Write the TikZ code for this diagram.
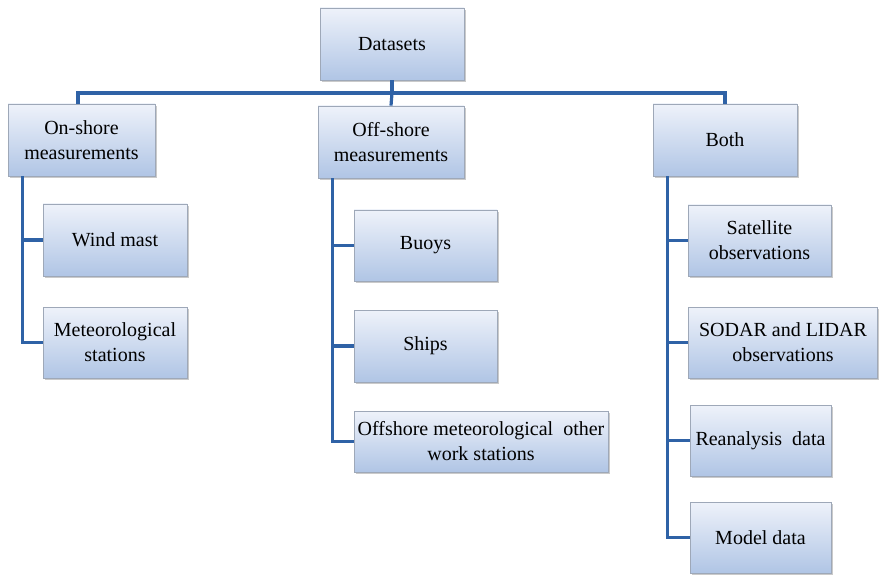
\documentclass[tikz,border=0pt]{standalone}
\usepackage{fontspec}
\setmainfont{Liberation Serif}
\usetikzlibrary{shadows}
\definecolor{linec}{HTML}{2F62A6}
\definecolor{boxtop}{HTML}{EEF2FA}
\definecolor{boxbot}{HTML}{B0C5E5}
\definecolor{boxline}{HTML}{9EA8B8}
\tikzset{
  bx/.style={rectangle, draw=boxline, line width=0.8pt, top color=boxtop, bottom color=boxbot,
    drop shadow={shadow xshift=1.5pt, shadow yshift=-2pt, fill=black!35, opacity=0.6},
    align=center, inner sep=0pt, font=\fontsize{20}{25}\selectfont},
  conn/.style={draw=linec, line width=3.2pt}
}
\begin{document}
\begin{tikzpicture}[x=1pt,y=-1pt]
\useasboundingbox (0,0) rectangle (879,575);
\node[bx, minimum width=144pt, minimum height=72pt] (ds) at (392,44) {Datasets};
\node[bx, minimum width=147pt, minimum height=72pt] (on) at (81.5,140) {On-shore\\measurements};
\node[bx, minimum width=146pt, minimum height=72pt] (off) at (391,142) {Off-shore\\measurements};
\node[bx, minimum width=144pt, minimum height=72pt] (both) at (725,140) {Both};
\node[bx, minimum width=144pt, minimum height=72pt] (wm) at (115,240) {Wind mast};
\node[bx, minimum width=144pt, minimum height=71pt] (ms) at (115,342.5) {Meteorological\\stations};
\node[bx, minimum width=143pt, minimum height=71pt] (buoys) at (425.5,245.5) {Buoys};
\node[bx, minimum width=143pt, minimum height=72pt] (ships) at (425.5,346) {Ships};
\node[bx, minimum width=254pt, minimum height=61pt] (offmet) at (481,441.5) {Offshore meteorological\ \ other\\work stations};
\node[bx, minimum width=143pt, minimum height=71pt] (sat) at (759.5,240.5) {Satellite\\observations};
\node[bx, minimum width=189pt, minimum height=71pt] (sodar) at (783,342.5) {SODAR and LIDAR\\observations};
\node[bx, minimum width=141pt, minimum height=71pt] (rean) at (760.5,440.5) {Reanalysis\ \ data};
\node[bx, minimum width=141pt, minimum height=71pt] (model) at (760.5,537.5) {Model data};
\coordinate (bus) at (392,93);
\draw[conn] (ds.south) -- (bus);
\draw[conn] (bus) -| ([xshift=-3.5pt]on.north);
\draw[conn] (bus) -| (both.north);
\draw[conn] (bus) -- (off.north);
\draw[conn] ([xshift=15pt]on.south west) |- (wm.west);
\draw[conn] ([xshift=15pt]on.south west) |- (ms.west);
\draw[conn] ([xshift=15pt]off.south west) |- (buoys.west);
\draw[conn] ([xshift=15pt]off.south west) |- (ships.west);
\draw[conn] ([xshift=15pt]off.south west) |- (offmet.west);
\draw[conn] ([xshift=15pt]both.south west) |- (sat.west);
\draw[conn] ([xshift=15pt]both.south west) |- (sodar.west);
\draw[conn] ([xshift=15pt]both.south west) |- (rean.west);
\draw[conn] ([xshift=15pt]both.south west) |- (model.west);
\end{tikzpicture}
\end{document}
